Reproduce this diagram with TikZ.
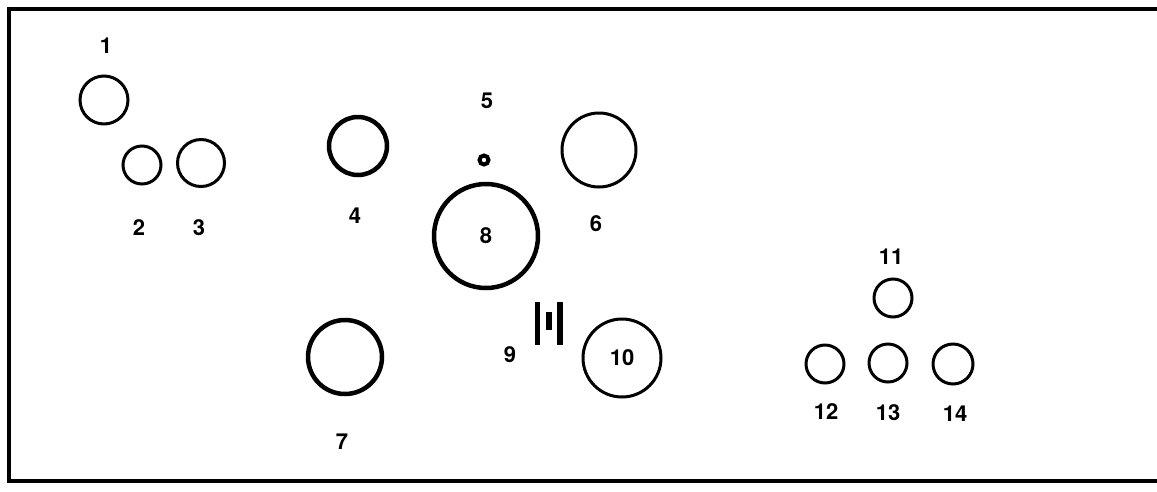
\documentclass[tikz,border=0pt]{standalone}
\usepackage{fontspec}
\setmainfont{TeX Gyre Heros}
\usetikzlibrary{positioning}

\begin{document}
\begin{tikzpicture}[
        x=1pt, y=-1pt,
        every node/.style={font=\fontsize{22}{22}\selectfont\bfseries},
        ring/.style={circle, draw, line width=3pt, inner sep=0pt},
        heavy/.style={ring, line width=4.5pt},
        num/.style={inner sep=0pt}
    ]
        \useasboundingbox (0,0) rectangle (1157,491);
        % Frame
        \draw[line width=3.5pt] (1157,9) -- (9,9) -- (9,481) -- (1157,481);

        % Rings
        \node[ring, minimum size=48] (r1) at (104,100) {};
        \node[ring, minimum size=38] (r2) at (142,165) {};
        \node[ring, minimum size=47] (r3) at (201,163) {};
        \node[heavy, minimum size=58] (r4) at (358,146) {};
        \node[ring, line width=4pt, minimum size=9] (r5) at (484,160) {};
        \node[ring, minimum size=74] (r6) at (599,150) {};
        \node[heavy, minimum size=104] (r8) at (486,236) {8};
        \node[heavy, minimum size=74] (r7) at (345,357) {};
        \node[ring, minimum size=78] (r10) at (622,358) {10};
        \node[ring, minimum size=38] (r11) at (893,298) {};
        \node[ring, minimum size=38] (r12) at (825,364) {};
        \node[ring, minimum size=38] (r13) at (888,363) {};
        \node[ring, minimum size=40] (r14) at (953,364) {};

        % Item 9
        \draw[line width=5pt] (537.5,302) -- (537.5,345);
        \draw[line width=5.5pt] (549,312) -- (549,330);
        \draw[line width=6pt] (560,302) -- (560,345);

        % Labels
        \node[num] (n1) at (106,46) {1};
        \node[num] (n2) at (139,228) {2};
        \node[num] (n3) at (199,228) {3};
        \node[num] (n4) at (355,216) {4};
        \node[num] (n5) at (487,101) {5};
        \node[num] (n6) at (596,224) {6};
        \node[num] (n7) at (342,442) {7};
        \node[num] (n9) at (510,355) {9};
        \node[num] (n11) at (891,257) {11};
        \node[num] (n12) at (826,412) {12};
        \node[num] (n13) at (888,413) {13};
        \node[num] (n14) at (955,414) {14};
    \end{tikzpicture}
\end{document}
